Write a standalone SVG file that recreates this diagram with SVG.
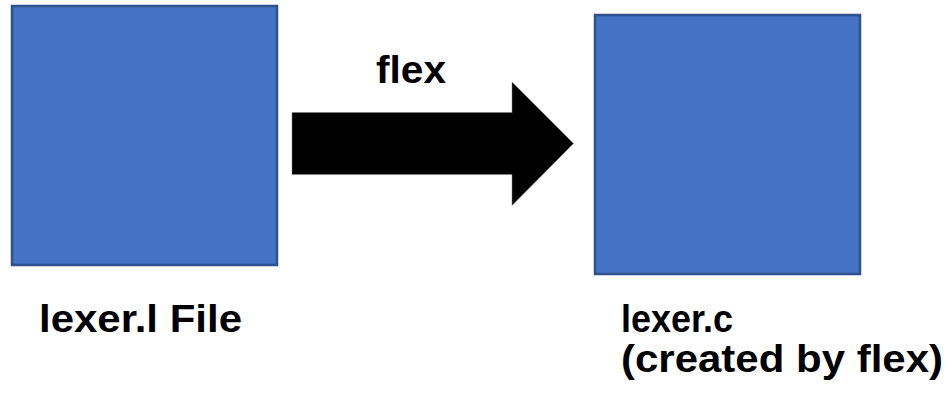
<svg xmlns="http://www.w3.org/2000/svg" width="945" height="404" viewBox="0 0 945 404">
<style>
.box{fill:#4472C4;stroke:#2F528F;stroke-width:2.5}
.lbl{font-family:"Liberation Sans",Arial,sans-serif;font-weight:bold;font-size:38px;fill:#000}
</style>
<rect width="945" height="404" fill="#fff"/>
<g id="lexer-l">
<rect class="box" x="12" y="6" width="265" height="259"/>
<text class="lbl" x="39" y="332" textLength="203" lengthAdjust="spacingAndGlyphs">lexer.l File</text>
</g>
<g id="lexer-c">
<rect class="box" x="595" y="15" width="265" height="259"/>
<text class="lbl" x="621" y="332" textLength="112" lengthAdjust="spacingAndGlyphs">lexer.c</text>
<text class="lbl" x="621" y="372" textLength="322" lengthAdjust="spacingAndGlyphs">(created by flex)</text>
</g>
<g id="connectors">
<polygon points="292,112.5 512,112.5 512,82 573.5,143.5 512,205.5 512,174.5 292,174.5" fill="#000" stroke="#7f7f7f" stroke-width="0.5"/>
<text class="lbl" x="376" y="83" textLength="70" lengthAdjust="spacingAndGlyphs">flex</text>
</g>
</svg>
